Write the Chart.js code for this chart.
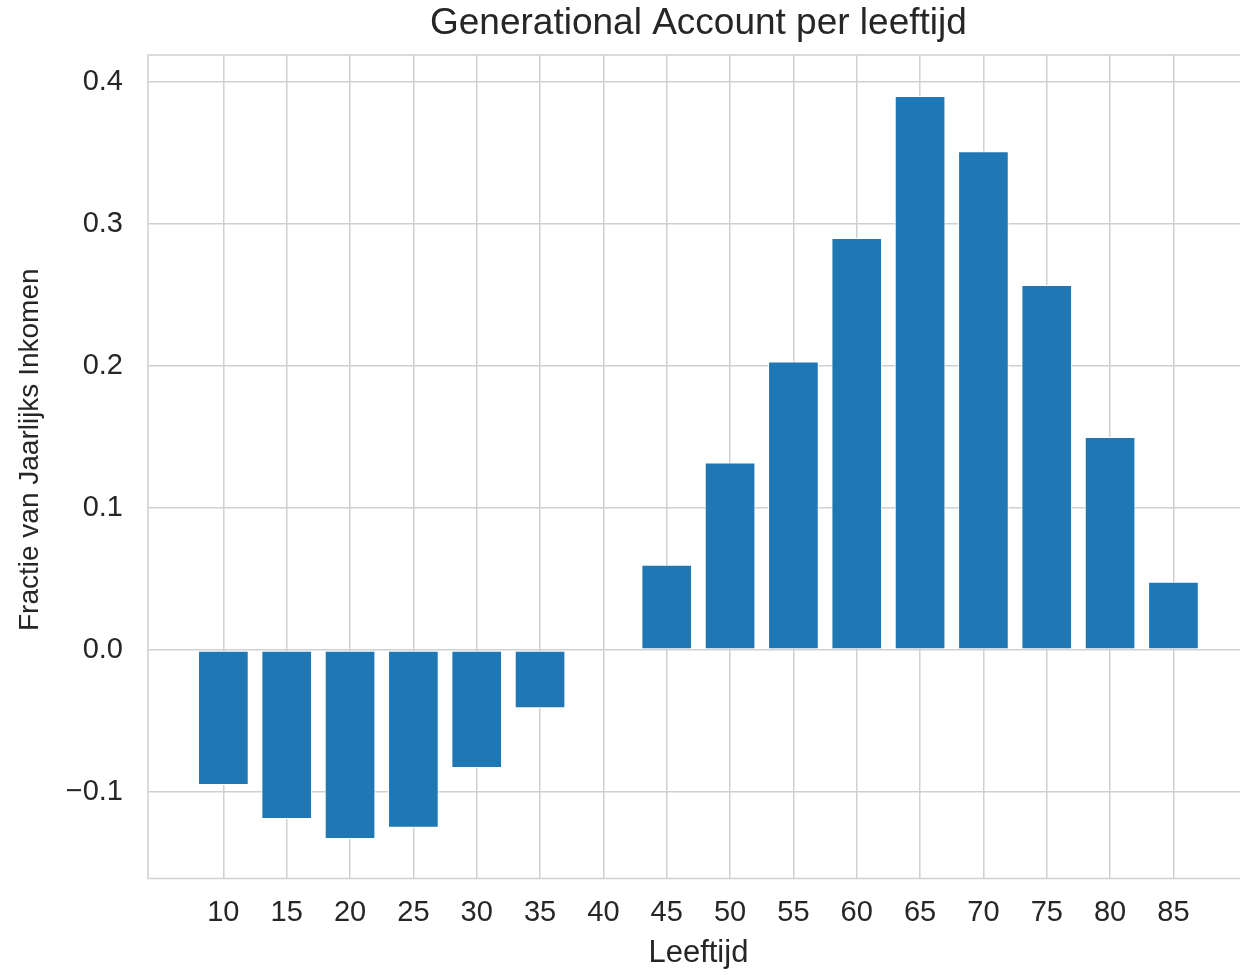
<!DOCTYPE html>
<html>
<head>
<meta charset="utf-8">
<script src="https://cdn.jsdelivr.net/npm/chart.js@4"></script>
<style>
  html, body { margin: 0; padding: 0; background: #fff; overflow: hidden; }
  #wrap { width: 1260px; height: 975px; }
</style>
</head>
<body>
<div id="wrap"><canvas id="bar-chart" width="1260" height="975"></canvas></div>
<script>
// Age groups (x axis) and generational account per age, as fraction of yearly income
const ages = [10, 15, 20, 25, 30, 35, 40, 45, 50, 55, 60, 65, 70, 75, 80, 85];
const accountValues = [-0.095, -0.119, -0.133, -0.125, -0.083, -0.041, 0.0, 0.060,
                       0.132, 0.203, 0.290, 0.390, 0.351, 0.257, 0.150, 0.048];

// Tick values and labels
const xTickValues = ages;
const xTickLabels = ["10", "15", "20", "25", "30", "35", "40", "45", "50", "55", "60", "65", "70", "75", "80", "85"];
const yTickValues = [-0.1, 0.0, 0.1, 0.2, 0.3, 0.4];
const yTickLabels = ["\u22120.1", "0.0", "0.1", "0.2", "0.3", "0.4"];

const yAxisLabel = 'Fractie van Jaarlijks Inkomen';

const FONT = '"Liberation Sans", Arial, sans-serif';
const TEXT = '#262626';
const GRID = '#d0d0d0';

// draws the axes frame (spines) like seaborn whitegrid, and the y label
const framePlugin = {
    id: 'frame',
    afterLayout(chart) {
        // center the title over the plot area instead of the whole canvas
        const a = chart.chartArea;
        if (chart.titleBlock) {
            chart.titleBlock.left = a.left;
            chart.titleBlock.right = a.right;
        }
    },
    afterDatasetsDraw(chart) {
        const {ctx, chartArea: a} = chart;
        ctx.save();
        ctx.strokeStyle = GRID;
        ctx.lineWidth = 1.5;
        ctx.strokeRect(a.left, a.top, a.right - a.left, a.bottom - a.top);
        ctx.restore();
    },
    afterDraw(chart) {
        const {ctx, chartArea: a} = chart;
        ctx.save();
        ctx.fillStyle = TEXT;
        ctx.font = '28px ' + FONT;
        ctx.textAlign = 'center';
        ctx.textBaseline = 'middle';
        ctx.translate(30, (a.top + a.bottom) / 2 - 17);
        ctx.rotate(-Math.PI / 2);
        ctx.fillText(yAxisLabel, 0, 0);
        ctx.restore();
    }
};

let canvasElement = document.getElementById('bar-chart');

let config = {
    type: 'bar',
    data: {
        datasets: [{
            label: 'Generational Account',
            data: ages.map((a, i) => ({x: a, y: accountValues[i]})),
            backgroundColor: '#1f77b4',
            borderColor: '#ffffff',
            borderWidth: 1,
            borderSkipped: false,
            barPercentage: 0.8,
            categoryPercentage: 1.0
        }]
    },
    options: {
        responsive: false,
        animation: false,
        layout: { padding: { left: 0, right: 11.2, top: 0, bottom: 0 } },
        plugins: {
            legend: { display: false },
            tooltip: { enabled: false },
            title: {
                display: true,
                text: 'Generational Account per leeftijd',
                color: TEXT,
                font: { family: FONT, size: 37, weight: 'normal', lineHeight: 1.2 },
                padding: { top: 1.6, bottom: 9 }
            }
        },
        scales: {
            x: {
                type: 'linear',
                offset: false,
                min: 4.05,
                max: 90.95,
                afterBuildTicks(scale) {
                    scale.ticks = xTickValues.map(v => ({value: v}));
                },
                afterFit(scale) { scale.height = 96.5; },
                ticks: {
                    color: TEXT,
                    font: { family: FONT, size: 29 },
                    padding: 17,
                    maxRotation: 0,
                    autoSkip: false,
                    callback: (v, i) => xTickLabels[i]
                },
                grid: { color: GRID, lineWidth: 1.5, drawTicks: false, offset: false },
                border: { display: false },
                title: {
                    display: true,
                    text: 'Leeftijd',
                    color: TEXT,
                    font: { family: FONT, size: 31, lineHeight: 1.2 },
                    padding: { top: 0, bottom: 3 }
                }
            },
            y: {
                min: -0.1608,
                max: 0.4188,
                afterBuildTicks(scale) {
                    scale.ticks = yTickValues.map(v => ({value: v}));
                },
                afterFit(scale) { scale.width = 148; },
                ticks: {
                    color: TEXT,
                    font: { family: FONT, size: 29 },
                    padding: 25,
                    callback: (v, i) => yTickLabels[i]
                },
                grid: { color: GRID, lineWidth: 1.5, drawTicks: false },
                border: { display: false },
                title: { display: false }
            }
        }
    },
    plugins: [framePlugin]
};

let BarChart = new Chart(canvasElement, config);
</script>
</body>
</html>
